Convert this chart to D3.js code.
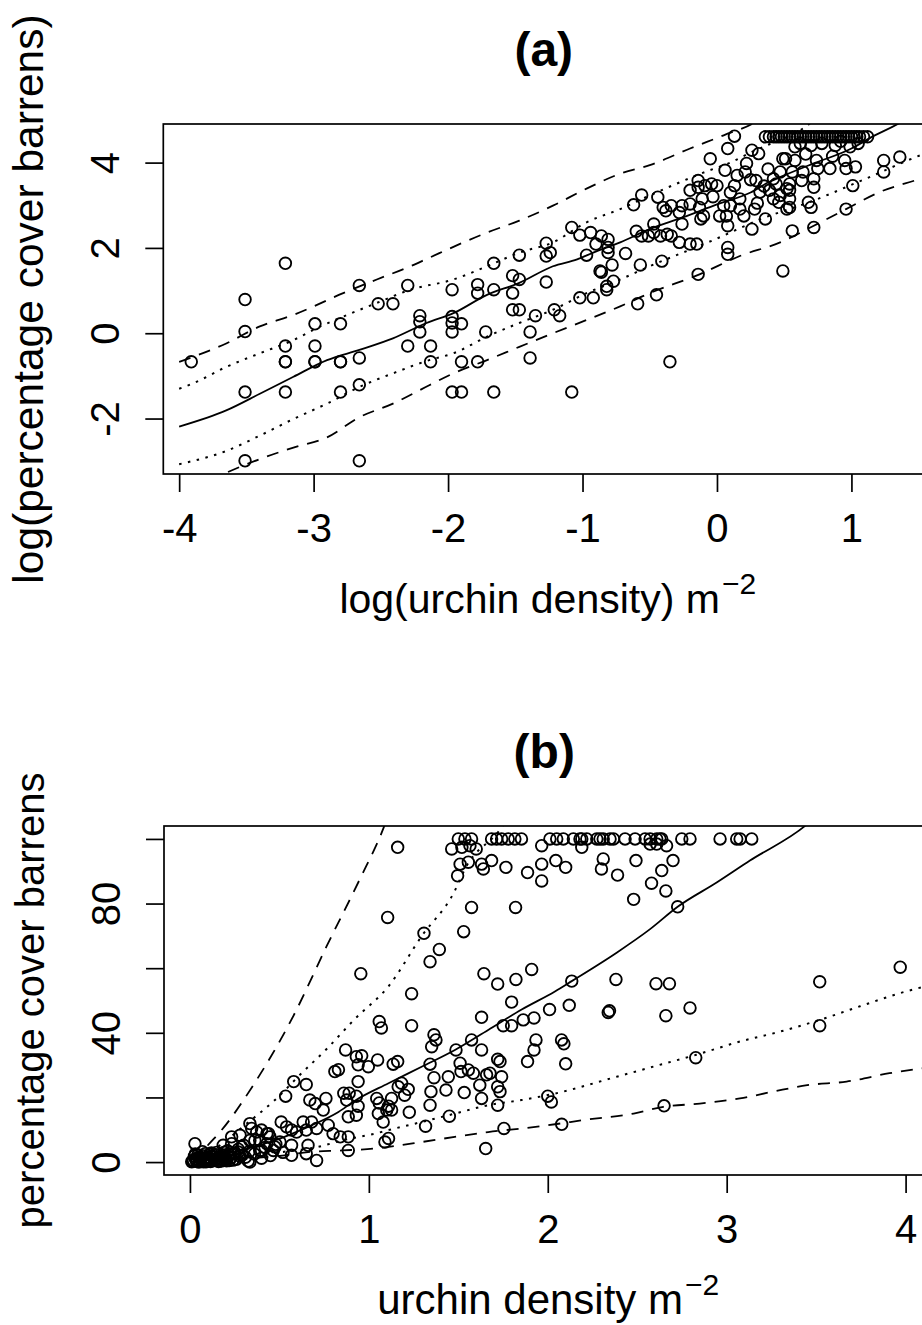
<!DOCTYPE html>
<html><head><meta charset="utf-8">
<script src="https://cdn.jsdelivr.net/npm/d3@7"></script>
<style>body{margin:0;background:#fff}svg{display:block}</style>
</head><body><svg id="c" width="922" height="1325"></svg>
<script>
// ---------------- DATA ----------------
// Panel (a): log(urchin density) vs log(percentage cover barrens)
const pointsA = [
[-3.91,-0.67],[-3.51,0.79],[-3.51,0.04],[-3.51,-1.38],[-3.51,-2.99],
[-3.21,1.64],[-3.21,-0.30],[-3.21,-0.67],[-3.21,-0.67],[-3.21,-1.38],
[-2.99,0.22],[-2.99,-0.30],[-2.99,-0.67],[-2.99,-0.67],
[-2.80,0.22],[-2.80,-0.67],[-2.80,-0.67],[-2.80,-1.38],
[-2.66,1.12],[-2.66,-0.58],[-2.66,-1.21],[-2.66,-2.99],
[-2.52,0.69],[-2.41,0.69],[-2.30,1.12],[-2.30,-0.30],
[-2.21,0.41],[-2.21,0.27],[-2.21,0.03],[-2.13,-0.30],[-2.13,-0.67],
[-1.97,1.02],[-1.97,0.39],[-1.97,0.24],[-1.97,0.03],[-1.97,-1.38],
[-1.90,0.22],[-1.90,-0.67],[-1.90,-1.38],
[-1.78,1.14],[-1.78,0.94],[-1.78,-0.67],[-1.72,0.03],
[-1.66,1.64],[-1.66,1.02],[-1.66,-1.38],
[-1.52,1.35],[-1.52,0.94],[-1.52,0.55],
[-1.47,1.83],[-1.47,1.26],[-1.47,0.55],
[-1.39,0.03],[-1.39,-0.58],[-1.35,0.41],
[-1.27,2.11],[-1.27,1.81],[-1.24,1.89],[-1.27,1.20],[-1.21,0.55],[-1.17,0.41],
[-1.08,2.48],[-1.08,-1.38],[-1.02,2.30],[-1.02,0.83],[-0.97,1.83],[-0.94,2.36],[-0.92,0.83],
[-0.90,2.09],[-0.87,1.46],[-0.86,2.28],[-0.86,1.43],[-0.82,1.10],[-0.82,1.02],
[-0.81,2.20],[-0.81,2.01],[-0.81,1.89],[-0.78,1.60],[-0.77,1.22],[-0.68,1.87],
[-0.62,3.01],[-0.60,2.39],[-0.59,0.69],[-0.57,1.60],[-0.56,3.24],[-0.56,2.28],[-0.51,2.28],
[0.13,4.62],[0.08,4.33],[-0.05,4.09],[0.06,3.82],[0.26,4.29],[0.31,4.21],[0.22,3.98],[0.21,3.78],
[-0.44,3.19],[-0.40,2.95],[-0.38,2.87],[-0.34,2.99],[-0.28,2.83],[-0.26,2.99],
[-0.14,3.58],[-0.14,3.42],[-0.11,3.15],[-0.09,3.46],[-0.04,3.50],[0.00,3.46],[-0.20,3.35],
[-0.13,2.95],[-0.12,2.68],[-0.10,2.75],[-0.20,3.03],[0.05,2.99],[0.02,2.75],[0.07,2.75],
[0.08,2.52],[0.10,2.99],[0.13,3.46],[0.17,3.15],[0.17,2.91],[0.20,2.75],[0.26,2.44],
[0.36,2.68],[0.28,2.91],[0.29,3.58],[0.32,3.31],[0.39,3.35],[0.42,3.15],[0.46,3.07],
[0.42,3.62],[0.49,4.09],[0.47,3.78],[0.52,3.39],[0.52,2.91],
[0.35,3.45],[0.25,3.60],[0.30,3.05],[0.38,3.85],[0.44,3.50],[0.15,3.70],[-0.03,3.20],[0.10,3.30],
[-0.47,2.36],[-0.42,2.28],[-0.37,2.32],[-0.34,2.28],[-0.28,2.13],[-0.20,2.09],[-0.15,2.09],
[-0.47,2.56],[-0.26,2.56],[0.08,2.01],[0.08,1.85],[-0.41,1.69],[-0.14,1.38],[-0.45,0.90],
[0.49,1.46],[-0.35,-0.67],
[0.36,4.605],[0.39,4.605],[0.42,4.605],[0.44,4.605],[0.46,4.605],[0.48,4.605],[0.50,4.605],
[0.52,4.605],[0.54,4.605],[0.56,4.605],[0.58,4.605],[0.60,4.605],[0.62,4.605],[0.64,4.605],
[0.66,4.605],[0.68,4.605],[0.70,4.605],[0.72,4.605],[0.74,4.605],[0.76,4.605],[0.78,4.605],
[0.80,4.605],[0.82,4.605],[0.84,4.605],[0.86,4.605],[0.88,4.605],[0.90,4.605],[0.92,4.605],
[0.94,4.605],[0.96,4.605],[0.98,4.605],[1.00,4.605],[1.02,4.605],[1.04,4.605],[1.06,4.605],
[1.09,4.605],[1.12,4.605],
[0.58,4.37],[0.51,4.09],[0.58,4.05],[0.74,4.05],[0.75,3.86],[0.84,3.86],[0.95,4.05],
[0.96,3.86],[1.03,3.90],[0.99,4.37],[1.24,4.05],[1.24,3.78],[1.36,4.13],[0.64,3.78],
[0.56,3.78],[0.63,3.58],[0.72,3.62],[0.72,3.42],[0.54,3.50],[0.54,3.35],[0.54,3.15],
[0.54,2.95],[0.47,3.23],[1.01,3.46],[0.68,3.07],[0.70,2.95],[0.96,2.91],[0.56,2.40],[0.72,2.48],
[0.62,4.45],[0.70,4.40],[0.78,4.45],[0.88,4.40],[0.92,4.50],[1.05,4.45],[0.66,4.20],[0.86,4.15]
];
const solidA   = [[-4.0,-2.19],[-3.65,-1.81],[-3.40,-1.42],[-3.15,-1.02],[-2.90,-0.63],[-2.66,-0.39],[-2.41,-0.12],[-2.16,0.24],[-1.96,0.47],[-1.71,0.90],[-1.47,1.18],[-1.22,1.57],[-1.04,1.73],[-0.92,1.89],[-0.72,2.13],[-0.50,2.44],[-0.25,2.72],[0.0,3.02],[0.25,3.30],[0.39,3.55],[0.5,3.70],[0.71,3.97],[1.0,4.33],[1.14,4.58],[1.38,4.97],[1.42,5.05]];
const dotUpA   = [[-4.0,-1.30],[-3.90,-1.18],[-3.65,-0.79],[-3.40,-0.47],[-3.15,-0.16],[-2.95,0.16],[-2.78,0.39],[-2.53,0.71],[-2.28,1.02],[-1.96,1.26],[-1.71,1.57],[-1.47,1.89],[-1.22,2.13],[-0.97,2.60],[-0.72,2.91],[-0.50,3.23],[-0.08,3.79],[0.10,4.0],[0.26,4.25],[0.39,4.43],[0.55,4.64],[0.70,4.94],[0.74,5.05]];
const dotLoA   = [[-4.0,-3.07],[-3.65,-2.76],[-3.40,-2.40],[-3.15,-2.01],[-2.90,-1.65],[-2.66,-1.26],[-2.41,-0.94],[-2.14,-0.63],[-1.96,-0.47],[-1.71,-0.08],[-1.47,0.24],[-1.22,0.55],[-0.97,0.94],[-0.72,1.26],[-0.50,1.57],[-0.03,2.18],[0.33,2.68],[0.71,3.10],[1.09,3.60],[1.51,4.17],[1.60,4.28]];
const dashUpA  = [[-4.0,-0.67],[-3.65,-0.24],[-3.40,0.16],[-3.15,0.43],[-2.78,0.94],[-2.53,1.26],[-2.28,1.57],[-2.14,1.77],[-1.71,2.36],[-1.47,2.64],[-1.22,2.99],[-0.97,3.39],[-0.72,3.74],[-0.50,3.94],[-0.20,4.33],[0.05,4.64],[0.28,4.94],[0.32,5.02]];
const dashLoA  = [[-3.78,-3.45],[-3.40,-2.95],[-3.15,-2.68],[-2.90,-2.44],[-2.66,-1.97],[-2.41,-1.65],[-2.14,-1.22],[-1.96,-0.94],[-1.71,-0.63],[-1.47,-0.32],[-1.22,0.0],[-0.97,0.31],[-0.72,0.63],[-0.50,0.94],[-0.13,1.38],[0.17,1.81],[0.47,2.13],[0.72,2.52],[0.96,2.91],[1.21,3.31],[1.51,3.62],[1.60,3.72]];

// Panel (b): urchin density vs percentage cover barrens
const pointsB = [
[0.955,58.3],[0.87,34.7],[0.81,28.0],[0.83,28.6],[0.93,32.6],[0.58,24.9],[0.65,24.0],[0.535,20.4],
[0.67,19.2],[0.70,18.1],[0.76,19.7],[0.745,16.1],[0.86,21.3],[0.89,21.3],[0.876,19.2],[0.94,24.9],
[0.885,14.0],[0.84,7.8],[0.885,7.8],[0.885,3.6],[0.80,8.8],[0.773,11.4],[0.708,10.4],[0.65,9.9],
[0.68,12.4],[0.633,12.4],[0.596,9.3],[0.568,9.9],[0.54,10.9],[0.708,0.5],[0.65,2.6],[0.568,2.1],
[0.568,5.2],[0.66,5.2],[0.503,6.2],[0.466,3.6],[0.43,5.7],[0.43,8.8],[0.447,7.8],[0.39,6.7],
[0.39,3.6],[0.373,9.3],[0.335,11.9],[0.335,6.7],[0.30,5.2],[0.28,8.3],[0.233,5.7],[0.242,2.6],
[0.186,5.2],[0.335,0.0],[0.29,2.1],[0.19,3.0],[0.028,5.7],
[0.345,10.4],[0.40,9.9],[0.44,8.8],[0.475,4.7],[0.363,6.7],[0.29,4.7],[0.233,7.8],[0.196,1.6],
[0.326,0.3],[0.40,3.6],[0.27,3.1],[0.51,12.4],
[0.02,0.5],[0.03,1.0],[0.04,0.2],[0.05,1.5],[0.06,0.8],[0.07,2.0],[0.08,0.3],[0.09,1.2],[0.10,0.6],
[0.11,2.4],[0.12,0.4],[0.13,1.6],[0.14,0.9],[0.15,3.0],[0.16,0.2],[0.17,1.8],[0.18,0.7],[0.19,2.2],
[0.20,1.0],[0.21,3.5],[0.22,0.5],[0.23,1.4],[0.25,2.8],[0.26,0.9],[0.27,4.0],[0.31,1.5],[0.33,3.2],
[0.36,2.5],[0.40,1.2],[0.42,4.5],[0.45,2.0],[0.48,5.5],[0.52,3.0],[0.01,0.1],[0.03,2.5],[0.05,0.05],
[0.07,3.2],[0.09,0.1],[0.12,2.8],[0.15,1.2],
[0.015,0.3],[0.025,1.8],[0.035,0.6],[0.045,2.2],[0.055,0.3],[0.065,1.3],[0.075,0.1],[0.085,2.6],
[0.095,0.8],[0.105,1.5],[0.115,0.2],[0.125,1.9],[0.135,0.5],[0.145,2.3],[0.165,1.0],[0.175,0.3],
[0.185,1.4],[0.205,0.4],[0.215,1.9],[0.225,2.9],[0.24,0.6],[0.28,1.8],
[1.50,100],[1.537,100],[1.574,100],[1.686,100],[1.714,100],[1.742,100],[1.779,100],[1.816,100],[1.853,100],
[1.463,96.9],[1.52,97.4],[1.565,97.9],[1.60,96.9],[1.966,97.9],[1.51,92.2],[1.556,92.8],[1.496,88.6],
[1.63,92.2],[1.64,90.7],[1.686,93.3],[1.766,91.2],[1.887,89.6],[1.966,92.2],[1.966,87.0],[2.045,93.3],
[1.161,97.4],[1.574,78.8],[1.82,78.8],[1.105,75.7],[1.53,71.3],[1.308,70.8],[1.394,65.8],[1.342,62.0],
[1.643,58.3],[1.72,55.1],[1.822,56.5],[1.91,59.6],[1.798,49.5],[1.239,52.1],[1.63,44.8],[1.751,42.2],
[1.798,42.2],[1.863,44.0],[1.923,44.6],[2.01,47.2],[1.058,43.5],[1.07,41.5],[1.239,42.2],[1.364,39.4],
[1.375,37.8],[1.351,35.7],[1.574,37.8],[1.487,34.7],[1.63,34.7],[1.934,37.8],[1.923,34.7],[1.887,31.1],
[0.96,32.9],[0.94,30.1],[0.997,29.5],[1.049,31.6],[1.136,30.3],[1.161,31.1],[1.342,30.3],[1.51,30.6],
[1.515,28.0],[1.556,28.5],[1.584,27.5],[1.72,31.8],[1.733,31.1],[1.658,27.0],[1.677,27.5],[1.742,26.4],
[1.444,26.4],[1.364,26.1],[1.183,24.4],[1.164,23.3],[1.22,22.5],[1.20,20.7],[1.62,23.8],
[1.431,22.3],[1.533,21.5],[1.347,21.8],[1.72,23.3],[1.733,21.8],[0.93,20.4],[0.94,17.3],[1.044,19.7],
[1.058,18.3],[1.127,19.7],[1.11,17.3],[1.127,16.1],[1.10,16.1],[1.63,19.7],[1.342,17.6],[1.72,17.6],
[1.053,15.0],[1.08,12.4],[1.226,15.4],[0.93,14.5],[1.45,14.2],[1.317,11.1],[2.0,20.4],[2.02,18.6],
[1.755,10.4],[1.09,6.2],[1.11,7.3],[1.653,4.2],
[2.012,100],[2.05,100],[2.087,100],[2.143,100],[2.18,100],[2.19,100],[2.218,100],[2.274,100],[2.292,100],
[2.31,100],[2.348,100],[2.367,100],[2.432,100],[2.488,100],[2.544,100],[2.572,100],[2.609,100],[2.627,100],
[2.637,100],[2.749,100],[2.795,100],[2.963,100],[3.056,100],[3.075,100],[3.14,100],
[2.19,97.4],[2.572,98.4],[2.609,98.4],[2.664,97.9],[2.10,91.2],[2.31,93.8],[2.30,90.7],[2.39,88.8],
[2.493,93.3],[2.70,93.3],[2.637,90.2],[2.58,86.3],[2.66,83.9],[2.48,81.3],[2.726,79.0],[2.134,56.0],
[2.381,56.5],[2.605,55.2],[2.68,55.2],[2.12,48.5],[2.338,46.3],[2.345,46.8],[2.66,45.3],[2.795,47.7],
[2.077,37.8],[2.09,36.6],[2.10,30.4],[2.827,32.3],[2.65,17.4],[2.078,11.7],
[3.52,55.8],[3.52,42.2],[3.97,60.3]
];
const solidB  = [[0.02,0.4],[0.06,1.0],[0.25,3.2],[0.475,6.7],[0.66,10.9],[0.83,15.5],[0.922,19.0],[1.11,24.4],[1.295,29.5],[1.481,34.7],[1.667,40.9],[1.854,47.2],[2.04,52.8],[2.134,56.0],[2.385,64.8],[2.57,72.0],[2.726,79.0],[2.944,86.5],[3.13,93.3],[3.44,104.1],[3.48,106]];
const dotUpB  = [[0.03,0.5],[0.15,4.5],[0.317,11.9],[0.475,19.2],[0.615,27.0],[0.764,35.0],[0.922,44.3],[1.11,54.4],[1.295,69.9],[1.48,83.9],[1.537,90.7],[1.742,103.6],[1.77,106]];
const dotLoB  = [[0.02,0.1],[0.3,1.5],[0.5,3.0],[0.717,4.7],[0.85,6.7],[1.034,8.8],[1.11,9.9],[1.295,12.4],[1.481,15.0],[1.667,17.6],[1.854,19.2],[2.04,21.2],[2.385,26.4],[2.66,30.6],[2.83,33.2],[3.074,37.3],[3.30,40.4],[3.52,44.0],[3.745,48.2],[3.97,52.3],[4.12,54.5]];
const dashUpB = [[0.02,0.3],[0.046,1.6],[0.10,5.2],[0.177,9.9],[0.354,23.8],[0.577,45.1],[0.764,66.8],[0.95,87.6],[1.08,103.1],[1.10,106]];
const dashLoB = [[0.02,0.05],[0.3,1.0],[0.53,2.1],[0.66,3.1],[0.85,3.6],[1.034,4.2],[1.11,4.7],[1.295,6.2],[1.48,7.8],[1.667,9.3],[1.854,10.4],[2.04,11.7],[2.2,13.0],[2.48,15.0],[2.646,17.1],[2.85,18.1],[3.074,19.7],[3.26,21.8],[3.45,23.8],[3.67,24.9],[3.91,27.5],[4.12,29.2]];

const xTicksA = [-4,-3,-2,-1,0,1];
const yTicksA = [-2,0,2,4];
const xTicksB = [0,1,2,3,4];
const yTicksB = [0,20,40,60,80,100];
const yLabelsB = [0,40,80];

// ---------------- DRAW ----------------
const FONT = '"Liberation Sans", Arial, Helvetica, sans-serif';
const svg = d3.select("#c");
svg.append("rect").attr("width",922).attr("height",1325).attr("fill","#fff");

const fmt = d => (d < 0 ? "-" + Math.abs(d) : String(d));

function panel(p) {
  const x = d3.scaleLinear().domain(p.xDomain).range([p.left, p.right]);
  const y = d3.scaleLinear().domain(p.yDomain).range([p.bottom, p.top]);
  const g = svg.append("g");
  g.append("clipPath").attr("id", "clip" + p.id).append("rect")
    .attr("x", p.left).attr("y", p.top).attr("width", p.right - p.left).attr("height", p.bottom - p.top);
  const plot = g.append("g").attr("clip-path", `url(#clip${p.id})`);
  const line = d3.line().x(d => x(d[0])).y(d => y(d[1])).curve(d3.curveMonotoneX);
  p.lines.forEach(L => {
    plot.append("path").datum(L.data).attr("d", line).attr("fill", "none")
      .attr("stroke", "#000").attr("stroke-width", L.w)
      .attr("stroke-dasharray", L.dash).attr("stroke-linecap", "butt");
  });
  plot.append("g").selectAll("circle").data(p.points).join("circle")
    .attr("cx", d => x(d[0])).attr("cy", d => y(d[1])).attr("r", 5.8)
    .attr("fill", "none").attr("stroke", "#000").attr("stroke-width", 1.85);

  g.append("rect").attr("x", p.left).attr("y", p.top)
    .attr("width", p.right - p.left).attr("height", p.bottom - p.top)
    .attr("fill", "none").attr("stroke", "#000").attr("stroke-width", 1.7);

  const gx = g.append("g").attr("transform", `translate(0,${p.bottom})`)
    .call(d3.axisBottom(x).tickValues(p.xTicks).tickSize(18).tickSizeOuter(0).tickPadding(22).tickFormat(fmt));
  gx.select(".domain").remove();
  gx.selectAll("line").attr("stroke", "#000").attr("stroke-width", 1.7);
  gx.selectAll("text").attr("font-size", 40).attr("font-family", FONT).attr("fill", "#000");

  const gy = g.append("g").attr("transform", `translate(${p.left},0)`)
    .call(d3.axisLeft(y).tickValues(p.yTicks).tickSize(18).tickSizeOuter(0)
      .tickFormat(d => (p.yLabels.includes(d) ? fmt(d) : "")));
  gy.select(".domain").remove();
  gy.selectAll("line").attr("stroke", "#000").attr("stroke-width", 1.7);
  gy.selectAll("text").attr("x", null).attr("dy", null)
    .attr("transform", "translate(-44,0) rotate(-90)")
    .attr("text-anchor", "middle")
    .attr("font-size", 40).attr("font-family", FONT).attr("fill", "#000");

  const cx = (p.left + p.right) / 2 - 3;
  const cy = (p.top + p.bottom) / 2;
  svg.append("text").attr("x", cx + 1).attr("y", p.top - 58).attr("text-anchor", "middle")
    .attr("font-family", FONT).attr("font-weight", "bold").attr("font-size", 48).text(p.title);

  const xl = svg.append("text").attr("x", cx + 5).attr("y", p.bottom + 139)
    .attr("text-anchor", "middle").attr("font-family", FONT).attr("font-size", p.xlabSize);
  xl.append("tspan").text(p.xlab + " m");
  xl.append("tspan").attr("dx", 2).attr("dy", -19).attr("font-size", 30).text("\u22122");

  svg.append("text").attr("transform", `translate(${p.left - 120},${cy}) rotate(-90)`)
    .attr("text-anchor", "middle").attr("font-family", FONT).attr("font-size", p.ylabSize).text(p.ylab);
}

panel({
  id: "a", left: 163.3, right: 928.2, top: 124, bottom: 474,
  xDomain: [-4.118, 1.571], yDomain: [-3.30, 4.905],
  xTicks: xTicksA, yTicks: yTicksA, yLabels: yTicksA,
  points: pointsA,
  lines: [
    { data: solidA, dash: null, w: 1.8 },
    { data: dotUpA, dash: "2.5,6.5", w: 2 }, { data: dotLoA, dash: "2.5,6.5", w: 2 },
    { data: dashUpA, dash: "12,9", w: 1.8 }, { data: dashLoA, dash: "12,9", w: 1.8 }
  ],
  title: "(a)", xlab: "log(urchin density)", ylab: "log(percentage cover barrens)",
  xlabSize: 41, ylabSize: 42.5
});

panel({
  id: "b", left: 164, right: 928.5, top: 826, bottom: 1175,
  xDomain: [-0.145, 4.128], yDomain: [-4, 104],
  xTicks: xTicksB, yTicks: yTicksB, yLabels: yLabelsB,
  points: pointsB,
  lines: [
    { data: solidB, dash: null, w: 1.8 },
    { data: dotUpB, dash: "2.5,6.5", w: 2 }, { data: dotLoB, dash: "2.5,6.5", w: 2 },
    { data: dashUpB, dash: "12,9", w: 1.8 }, { data: dashLoB, dash: "12,9", w: 1.8 }
  ],
  title: "(b)", xlab: "urchin density", ylab: "percentage cover barrens",
  xlabSize: 42, ylabSize: 40
});
</script>
</body></html>
